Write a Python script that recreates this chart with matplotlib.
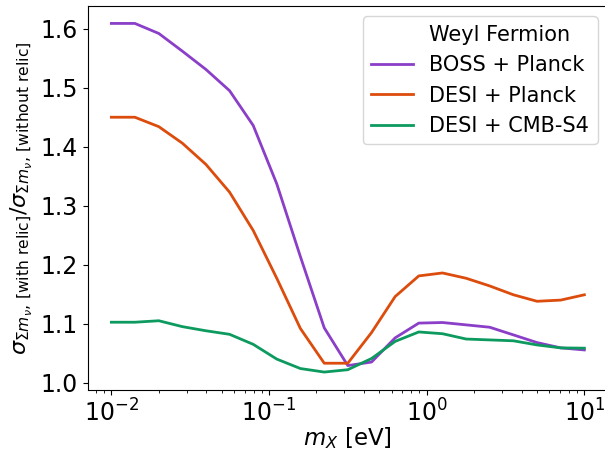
import numpy as np
import matplotlib

matplotlib.use("Agg")
import matplotlib.pyplot as plt

# m_X grid [eV], 21 log-spaced points
M_X = [0.01, 0.0141, 0.02, 0.0282, 0.0398, 0.0562, 0.0794, 0.112, 0.158, 0.224,
       0.316, 0.447, 0.631, 0.891, 1.26, 1.78, 2.51, 3.55, 5.01, 7.08, 10.0]

BOSS_PLANCK = [1.609, 1.609, 1.592, 1.562, 1.531, 1.495, 1.436, 1.337, 1.214, 1.093,
               1.029, 1.035, 1.076, 1.101, 1.102, 1.098, 1.094, 1.081, 1.068, 1.059, 1.0555]
DESI_PLANCK = [1.450, 1.450, 1.434, 1.406, 1.370, 1.323, 1.258, 1.177, 1.092, 1.033,
               1.033, 1.085, 1.146, 1.181, 1.186, 1.177, 1.164, 1.149, 1.138, 1.140, 1.149]
DESI_CMBS4 = [1.1025, 1.1025, 1.105, 1.095, 1.088, 1.082, 1.065, 1.040, 1.024, 1.018,
              1.022, 1.041, 1.070, 1.086, 1.083, 1.074, 1.0725, 1.071, 1.064, 1.059, 1.0585]

LABELS = ["BOSS + Planck", "DESI + Planck", "DESI + CMB-S4"]
COLORS = ["#8b3fc8", "#dc4c0c", "#0d9a5f"]

W, H = 605, 451
fig = plt.figure(figsize=(W / 100, H / 100), dpi=100)
ax = fig.add_axes([87.7 / W, (H - 389.5) / H, (608 - 87.7) / W, (389.5 - 6) / H])

# empty handle so "Weyl Fermion" sits in the legend like a heading
ax.plot([], [], color="none", label="Weyl Fermion")
for ys, lab, c in zip([BOSS_PLANCK, DESI_PLANCK, DESI_CMBS4], LABELS, COLORS):
    ax.plot(M_X, ys, color=c, lw=2, label=lab)

ax.set_xscale("log")
ax.tick_params(labelsize=17)
ax.set_xlabel(r"$m_X$ [eV]", fontsize=16.5, labelpad=-1)
ax.set_ylabel(r"$\sigma_{\Sigma m_\nu,\,[\mathrm{with\ relic}]}/\sigma_{\Sigma m_\nu,\,[\mathrm{without\ relic}]}$",
              fontsize=16, labelpad=4)
ax.legend(loc="upper right", fontsize=15, handlelength=2.0)

fig.savefig("out.png", dpi=100)
